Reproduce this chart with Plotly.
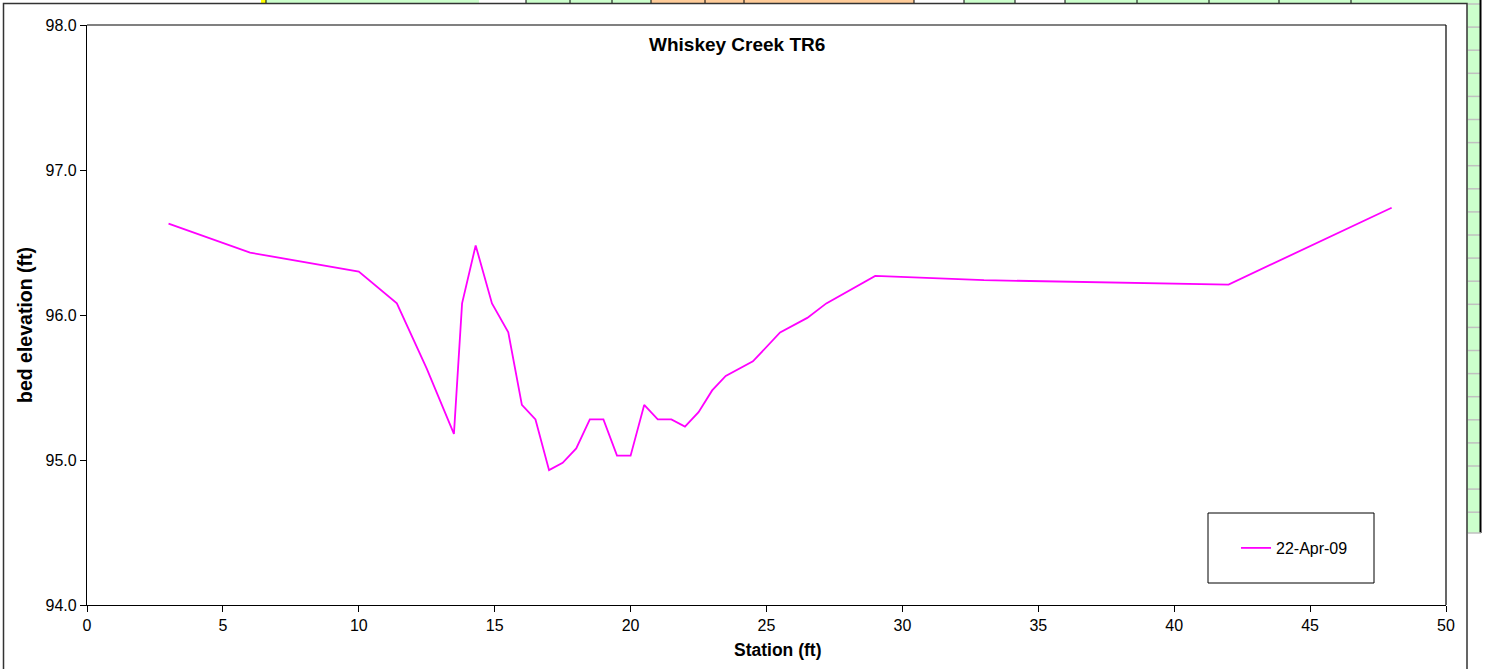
import plotly.graph_objects as go

# ---- data ----
station_ft = [3.0, 6.0, 10.0, 11.4, 12.5, 13.5, 13.8, 14.3, 14.9, 15.5, 16.0, 16.5,
              17.0, 17.5, 18.0, 18.5, 19.0, 19.5, 20.0, 20.5, 21.0, 21.5, 22.0,
              22.5, 23.0, 23.5, 24.5, 25.5, 26.5, 27.2, 29.0, 33.0, 42.0, 48.0]
bed_elev_ft = [96.63, 96.43, 96.30, 96.08, 95.63, 95.18, 96.08, 96.48, 96.08, 95.88, 95.38, 95.28,
               94.93, 94.98, 95.08, 95.28, 95.28, 95.03, 95.03, 95.38, 95.28, 95.28, 95.23,
               95.33, 95.48, 95.58, 95.68, 95.88, 95.98, 96.08, 96.27, 96.24, 96.21, 96.74]
series_name = "22-Apr-09"
x_ticks = [0, 5, 10, 15, 20, 25, 30, 35, 40, 45, 50]
y_ticks = [94.0, 95.0, 96.0, 97.0, 98.0]
y_tick_labels = ["94.0", "95.0", "96.0", "97.0", "98.0"]

W, H = 1486, 669
L, R, T, B = 87, 1446, 25, 605
FONT = "Liberation Sans, Arial, sans-serif"


def px(x):
    return (x - L) / (R - L)


def py(y):
    return (B - y) / (B - T)


fig = go.Figure()
fig.add_trace(go.Scatter(x=station_ft, y=bed_elev_ft, mode="lines", name=series_name,
                         line=dict(color="#FF00FF", width=1.8)))

shapes = []
# spreadsheet background: right strip of green cells
shapes.append(dict(type="rect", xref="paper", yref="paper", x0=px(1467), x1=px(1480),
                   y0=py(533), y1=py(0), fillcolor="#CCFFCC", line=dict(width=0), layer="below"))
yy = 4
while yy < 533:
    shapes.append(dict(type="line", xref="paper", yref="paper", x0=px(1468), x1=px(1480),
                       y0=py(yy), y1=py(yy), line=dict(color="#C0C0C0", width=1.5)))
    yy += 23.1
shapes.append(dict(type="line", xref="paper", yref="paper", x0=px(1480.5), x1=px(1480.5),
                   y0=py(533), y1=py(0), line=dict(color="black", width=2)))
shapes.append(dict(type="line", xref="paper", yref="paper", x0=px(1468), x1=px(1481),
                   y0=py(533), y1=py(533), line=dict(color="#C0C0C0", width=1.5)))
# top strip of cells
top_cells = [(261, 266, "#FFFF00"), (266, 479, "#CCFFCC"), (526, 651, "#CCFFCC"),
             (651, 914, "#FFCC99"), (964, 1015, "#CCFFCC"), (1065, 1467, "#CCFFCC")]
for a, b, c in top_cells:
    shapes.append(dict(type="rect", xref="paper", yref="paper", x0=px(a), x1=px(b),
                       y0=py(3), y1=py(0), fillcolor=c, line=dict(width=0), layer="below"))
for sx in [266, 526, 570, 612, 651, 705, 744, 914, 964, 1015, 1065, 1137, 1209, 1279, 1351]:
    shapes.append(dict(type="line", xref="paper", yref="paper", x0=px(sx), x1=px(sx),
                       y0=py(3), y1=py(0), line=dict(color="black", width=1)))
# chart area border
shapes.append(dict(type="rect", xref="paper", yref="paper", x0=px(3.5), x1=px(1467),
                   y0=py(700), y1=py(3.5), line=dict(color="#333333", width=1.5)))
# plot area border: top gray, right black
shapes.append(dict(type="line", xref="paper", yref="paper", x0=0, x1=1, y0=1, y1=1,
                   line=dict(color="#808080", width=2)))
shapes.append(dict(type="line", xref="paper", yref="paper", x0=1, x1=1, y0=0, y1=1,
                   line=dict(color="black", width=1.2)))
# legend frame
shapes.append(dict(type="rect", xref="paper", yref="paper", x0=px(1208), x1=px(1374),
                   y0=py(583), y1=py(513), line=dict(color="black", width=1), fillcolor="white",
                   layer="below"))

annotations = [
    dict(text="<b>Whiskey Creek TR6</b>", xref="paper", yref="paper", x=px(737), y=py(45),
         showarrow=False, font=dict(size=19, color="black", family=FONT),
         xanchor="center", yanchor="middle"),
    dict(text="<b>Station (ft)</b>", xref="paper", yref="paper", x=px(777), y=py(650),
         showarrow=False, font=dict(size=17.5, color="black", family=FONT),
         xanchor="center", yanchor="middle"),
    dict(text="<b>bed elevation (ft)</b>", xref="paper", yref="paper", x=px(25), y=py(325),
         showarrow=False, textangle=-90, font=dict(size=19.5, color="black", family=FONT),
         xanchor="center", yanchor="middle"),
]

fig.update_layout(
    width=W, height=H,
    margin=dict(l=L, r=W - R, t=T, b=H - B, pad=0),
    paper_bgcolor="white", plot_bgcolor="white",
    font=dict(family=FONT, size=16, color="black"),
    showlegend=True,
    legend=dict(x=px(1236), y=py(548), xanchor="left", yanchor="middle",
                bgcolor="rgba(0,0,0,0)", borderwidth=0, font=dict(size=16, family=FONT)),
    shapes=shapes,
    annotations=annotations,
    xaxis=dict(range=[0, 50], tickvals=x_ticks, ticks="outside", ticklen=6, tickcolor="black",
               showline=True, linecolor="black", linewidth=1.2, showgrid=False, zeroline=False,
               tickfont=dict(size=16, family=FONT)),
    yaxis=dict(range=[94, 98], tickvals=y_ticks, ticktext=y_tick_labels, ticks="outside",
               ticklen=6, tickcolor="black", showline=True, linecolor="black", linewidth=1.2,
               showgrid=False, zeroline=False, tickfont=dict(size=16, family=FONT)),
)

fig.write_html("out.html", config={"displayModeBar": False},
               post_script="document.body.style.margin='0';document.body.style.overflow='hidden';")
